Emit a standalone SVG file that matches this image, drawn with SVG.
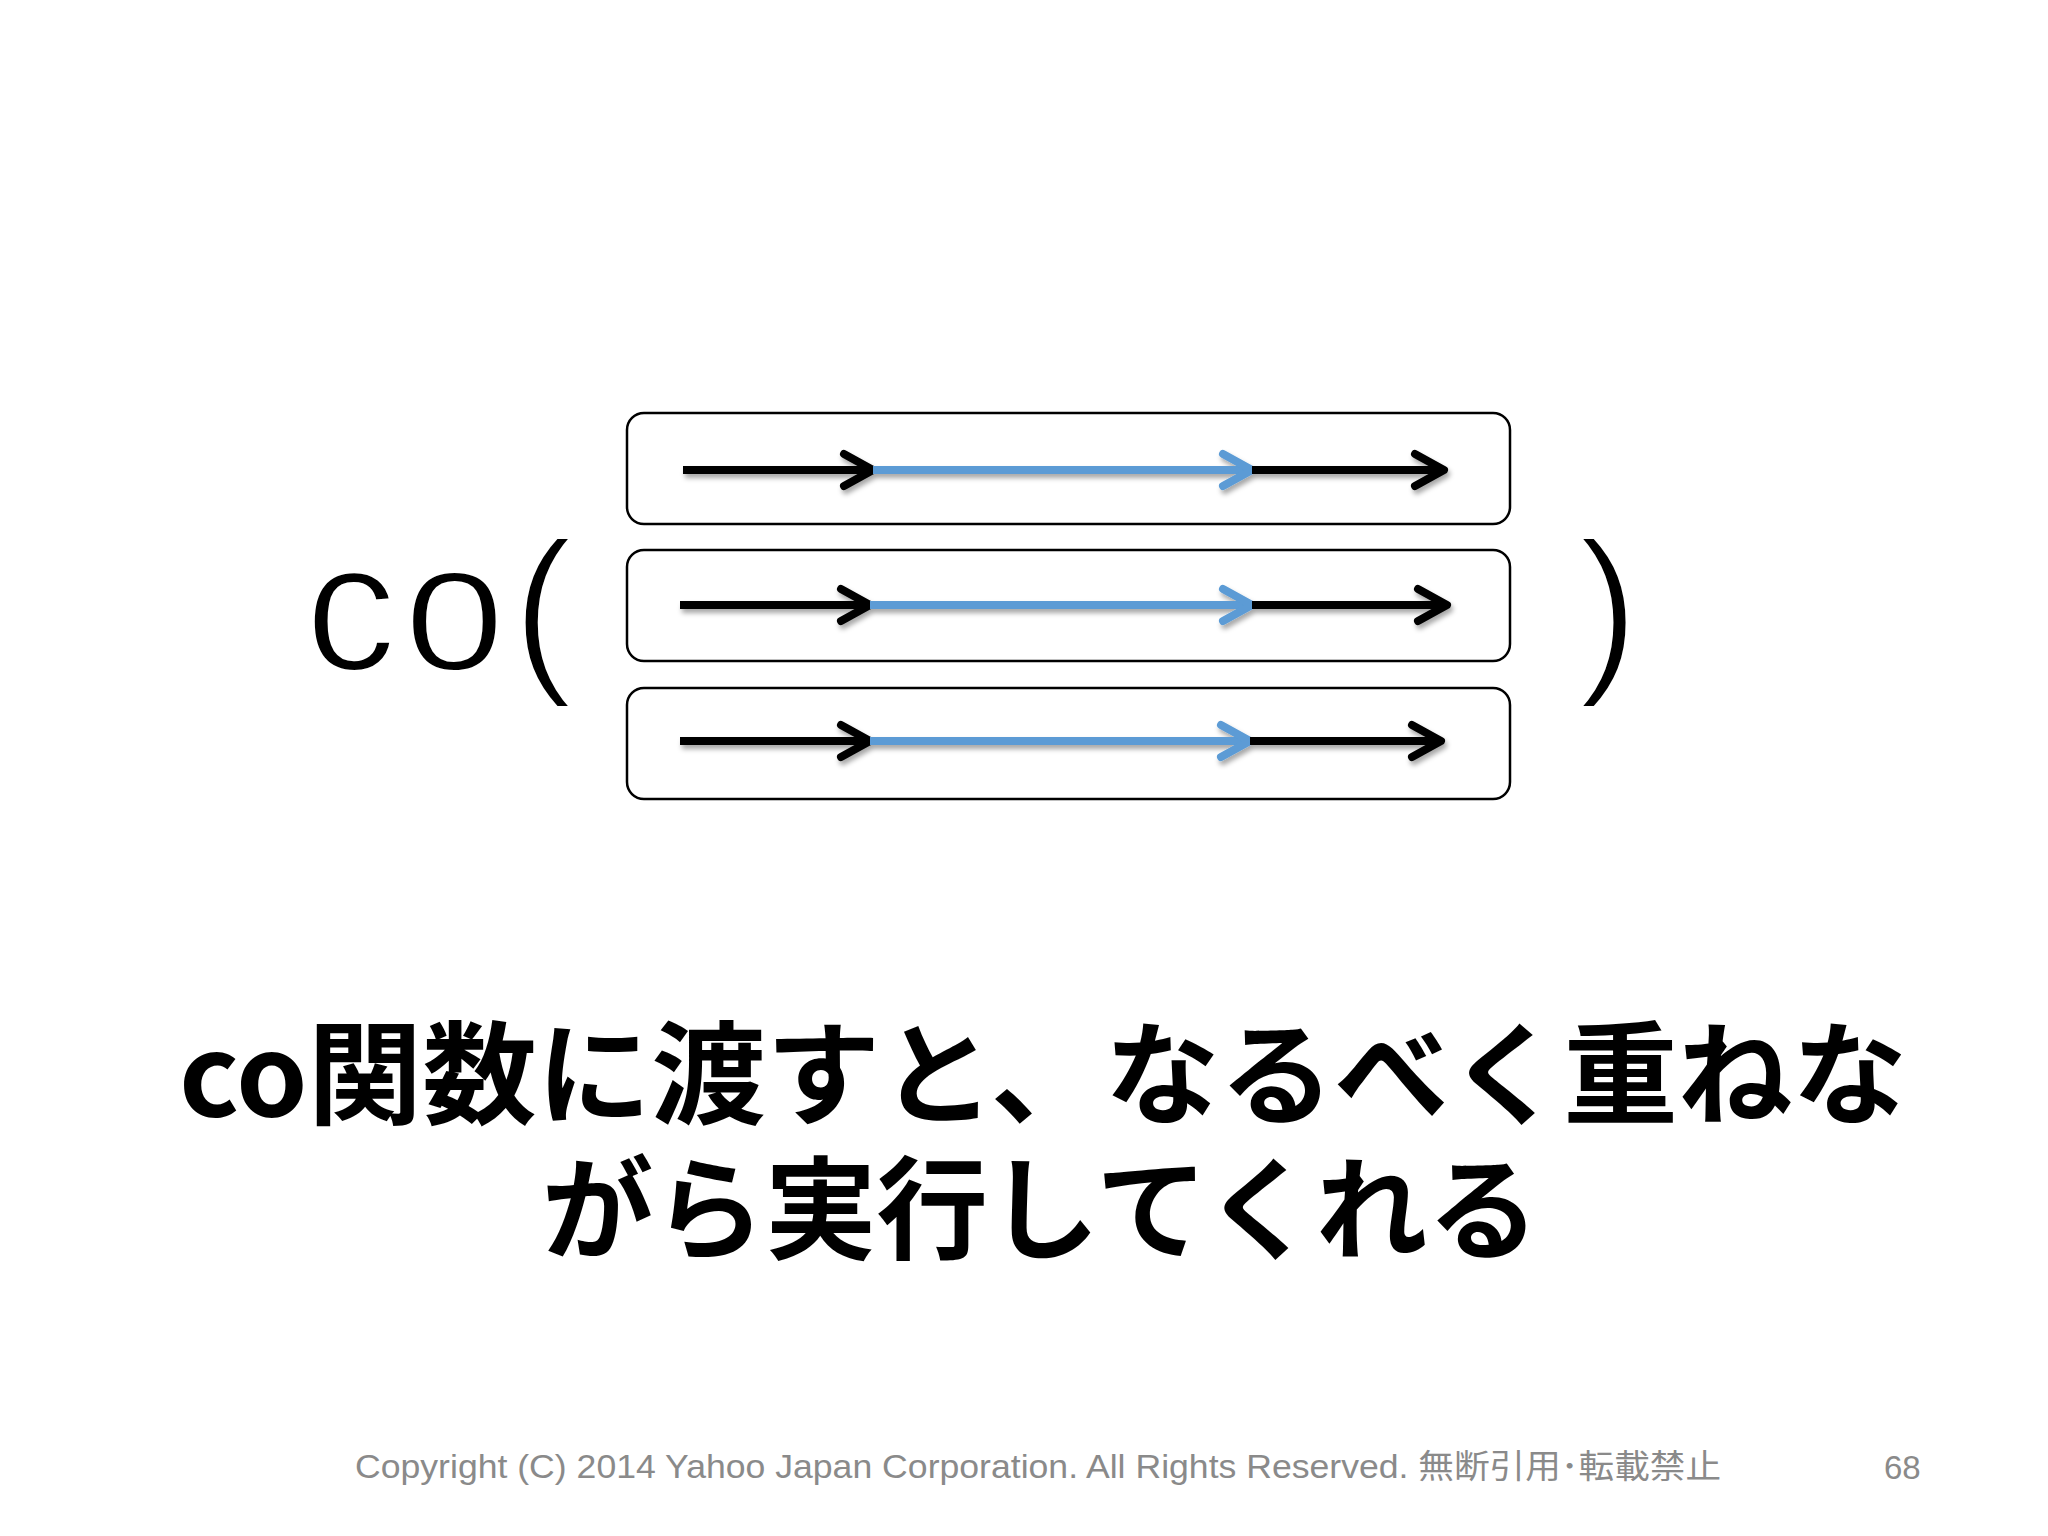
<svg xmlns="http://www.w3.org/2000/svg" width="2048" height="1536" viewBox="0 0 2048 1536">
<defs>
<style>
.box{fill:#fff;stroke:#000;stroke-width:2.5}
.blk{stroke:#000;stroke-width:8;fill:none}
.blu{stroke:#5b9bd5;stroke-width:8;fill:none}
.big{font-family:"Liberation Sans",Arial,sans-serif;font-size:183px;fill:#000;stroke:#fff;stroke-width:4;paint-order:normal}
.msg{font-family:"Noto Sans CJK JP","Noto Sans",sans-serif;font-weight:bold;font-size:112px;fill:#000}
.foot{font-family:"Liberation Sans Narrow","Liberation Sans","Noto Sans CJK JP",sans-serif;font-size:33px;fill:#8a8a8a}
</style>
<filter id="sh" x="-10%" y="-50%" width="120%" height="200%">
<feDropShadow dx="2" dy="4" stdDeviation="2.5" flood-color="#000" flood-opacity="0.35"/>
</filter>
<marker id="hb" markerUnits="userSpaceOnUse" overflow="visible" orient="auto" refX="0" refY="0" markerWidth="40" markerHeight="40">
<path d="M-29,-16 L0,0 L-29,16" fill="none" stroke="#000" stroke-width="8" stroke-linecap="round" stroke-linejoin="round"/>
</marker>
<marker id="hu" markerUnits="userSpaceOnUse" overflow="visible" orient="auto" refX="0" refY="0" markerWidth="40" markerHeight="40">
<path d="M-29,-16 L0,0 L-29,16" fill="none" stroke="#5b9bd5" stroke-width="8" stroke-linecap="round" stroke-linejoin="round"/>
</marker>
</defs>
<rect width="2048" height="1536" fill="#fff"/>

<g id="box1"><rect class="box" x="627" y="413" width="883" height="111" rx="17"/></g>
<g id="box2"><rect class="box" x="627" y="550" width="883" height="111" rx="17"/></g>
<g id="box3"><rect class="box" x="627" y="688" width="883" height="111" rx="17"/></g>

<g id="connectors" filter="url(#sh)">
<line class="blk" x1="683" y1="470" x2="873" y2="470" marker-end="url(#hb)"/>
<line class="blu" x1="873" y1="470" x2="1252" y2="470" marker-end="url(#hu)"/>
<line class="blk" x1="1252" y1="470" x2="1444" y2="470" marker-end="url(#hb)"/>
<line class="blk" x1="680" y1="605" x2="870" y2="605" marker-end="url(#hb)"/>
<line class="blu" x1="870" y1="605" x2="1252" y2="605" marker-end="url(#hu)"/>
<line class="blk" x1="1252" y1="605" x2="1447" y2="605" marker-end="url(#hb)"/>
<line class="blk" x1="680" y1="741" x2="870" y2="741" marker-end="url(#hb)"/>
<line class="blu" x1="870" y1="741" x2="1250" y2="741" marker-end="url(#hu)"/>
<line class="blk" x1="1250" y1="741" x2="1441" y2="741" marker-end="url(#hb)"/>
</g>

<g id="co-call">
<text class="big" x="305" y="670" letter-spacing="7">co(</text>
<text class="big" x="1578" y="670">)</text>
</g>

<g id="message">
<text class="msg" x="179" y="1116" textLength="1728" lengthAdjust="spacingAndGlyphs">co関数に渡すと、なるべく重ねな</text>
<text class="msg" x="542" y="1251" textLength="997" lengthAdjust="spacingAndGlyphs">がら実行してくれる</text>
</g>

<g id="footer">
<text class="foot" x="355" y="1478" textLength="1366" lengthAdjust="spacingAndGlyphs">Copyright (C) 2014 Yahoo Japan Corporation. All Rights Reserved. 無断引用･転載禁止</text>
<text class="foot" x="1884" y="1479" font-size="35">68</text>
</g>
</svg>
